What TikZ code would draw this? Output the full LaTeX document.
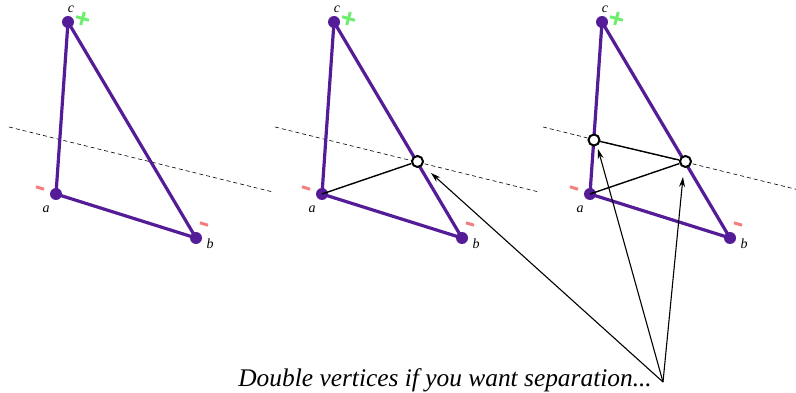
\documentclass[tikz,border=0pt]{standalone}
\usepackage{fontspec}
\setmainfont{Liberation Serif}
\usetikzlibrary{arrows.meta}
\definecolor{tri}{RGB}{84,28,150}
\definecolor{plusg}{RGB}{110,238,110}
\definecolor{minusr}{RGB}{245,125,125}
\begin{document}
\begin{tikzpicture}[x=1pt,y=-1pt,
  edge/.style={tri,line width=3.2pt},
  vdot/.style={circle,fill=tri,inner sep=0pt,minimum size=12pt},
  ring/.style={circle,draw=black,fill=white,line width=2pt,inner sep=0pt,minimum size=11pt},
  cut/.style={dash pattern=on 4pt off 3pt,line width=0.6pt},
  lbl/.style={font=\itshape\fontsize{14}{14}\selectfont,inner sep=0pt},
  plussign/.style={plusg,line width=3pt},
  minussign/.style={minusr,line width=3pt},
  pointer/.style={-{Stealth[length=10pt,width=6pt]},line width=1.1pt},
  thin/.style={line width=1.4pt}]
\useasboundingbox (0,0) rectangle (796,393);
\foreach \p/\dx in {1/0,2/266,3/534}{
  \begin{scope}[xshift=\dx]
    \coordinate (d\p s) at (9,127);
    \coordinate (d\p e) at (273,192);
    \draw[cut] (d\p s) -- (d\p e);
    \node[vdot] (a\p) at (56,194) {};
    \node[vdot] (b\p) at (196,238) {};
    \node[vdot] (c\p) at (68,22) {};
    \draw[edge] (a\p.center) -- (b\p.center) -- (c\p.center) -- cycle;
    \node[lbl] (la\p) at (46,209) {a};
    \node[lbl] (lb\p) at (210,244) {b};
    \node[lbl] (lc\p) at (71,9) {c};
    \coordinate (pc\p) at (82.5,18.5);
    \draw[plussign] ([xshift=-6.5pt,yshift=1.8pt]pc\p) -- ([xshift=6.5pt,yshift=-1.8pt]pc\p);
    \draw[plussign] ([xshift=-1.8pt,yshift=-6.5pt]pc\p) -- ([xshift=1.8pt,yshift=6.5pt]pc\p);
    \coordinate (ma\p) at (40,188);
    \coordinate (mb\p) at (204,224);
    \draw[minussign] ([xshift=-4pt,yshift=1.2pt]ma\p) -- ([xshift=4pt,yshift=-1.2pt]ma\p);
    \draw[minussign] ([xshift=-4pt,yshift=1.2pt]mb\p) -- ([xshift=4pt,yshift=-1.2pt]mb\p);
  \end{scope}
}
% panel 2
\node[ring] (s2) at (417.5,161.5) {};
\draw[thin] (a2.center) -- (s2);
% panel 3
\node[ring] (r3) at (594,140) {};
\node[ring] (s3) at (685.5,161.5) {};
\draw[thin] (a3.center) -- (s3);
\draw[thin] (r3) -- (s3);
% caption and pointers
\node[font=\itshape\fontsize{25.4}{25.4}\selectfont,anchor=base east,inner sep=0pt] (cap) at (652,386) {Double vertices if you want separation...};
\coordinate (apex) at (663,382);
\coordinate (t1) at (431,173);
\coordinate (t2) at (598,149);
\coordinate (t3) at (683,177);
\draw[pointer] (apex) -- (t1);
\draw[pointer] (apex) -- (t2);
\draw[pointer] (apex) -- (t3);
\end{tikzpicture}
\end{document}
